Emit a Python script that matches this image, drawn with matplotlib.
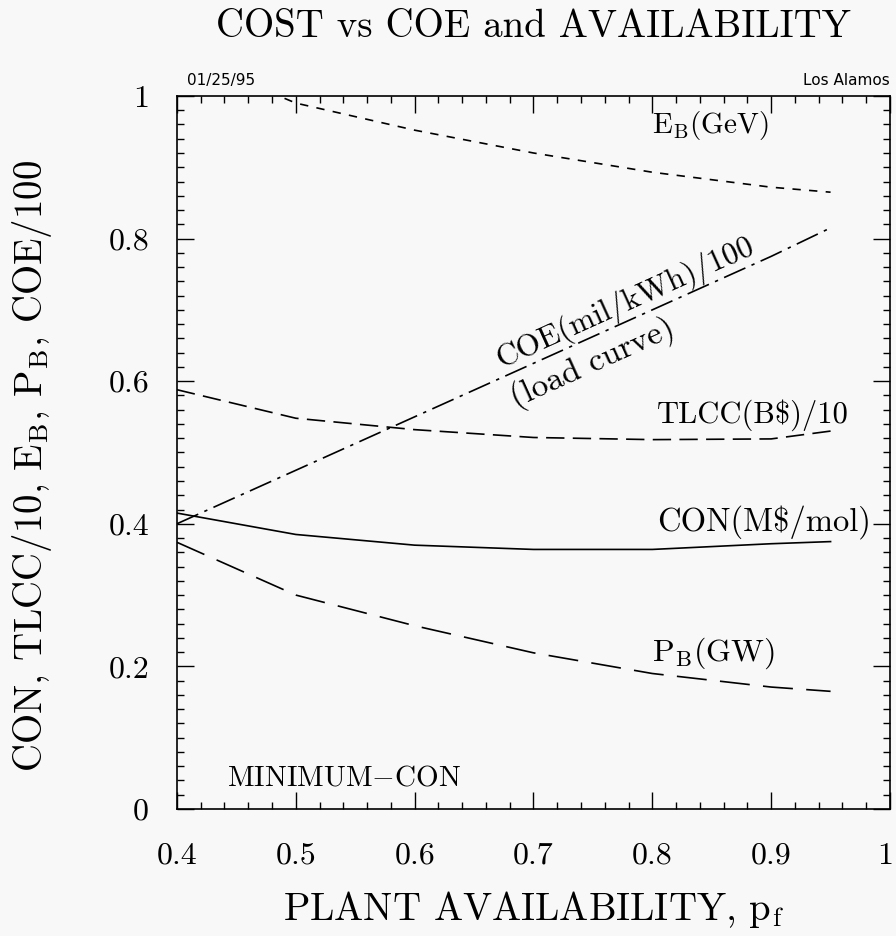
import numpy as np
import matplotlib
matplotlib.use("Agg")
import matplotlib.pyplot as plt
from matplotlib.ticker import MultipleLocator

plt.rcParams['font.family'] = 'serif'
plt.rcParams['font.serif'] = ['cmr10', 'DejaVu Serif']
plt.rcParams['mathtext.fontset'] = 'cm'
plt.rcParams['axes.formatter.use_mathtext'] = True

# plant availability grid and the scaled cost figures
pf = [0.40, 0.50, 0.60, 0.70, 0.80, 0.90, 0.95]
con = [0.415, 0.385, 0.370, 0.364, 0.364, 0.372, 0.375]        # CON (M$/mol)
tlcc = [0.588, 0.548, 0.532, 0.521, 0.518, 0.519, 0.530]       # TLCC (B$)/10
e_beam = [1.060, 0.990, 0.952, 0.920, 0.893, 0.872, 0.865]     # E_B (GeV)
p_beam = [0.374, 0.300, 0.257, 0.219, 0.190, 0.171, 0.165]     # P_B (GW)
coe = [0.400, 0.475, 0.550, 0.625, 0.700, 0.775, 0.815]        # COE (mil/kWh)/100

x_ticks = [0.4, 0.5, 0.6, 0.7, 0.8, 0.9, 1.0]
x_ticklabels = ['0.4', '0.5', '0.6', '0.7', '0.8', '0.9', '1']
y_ticks = [0.0, 0.2, 0.4, 0.6, 0.8, 1.0]
y_ticklabels = ['0', '0.2', '0.4', '0.6', '0.8', '1']

bg = '#f8f8f8'
fig = plt.figure(figsize=(8.96, 9.36), dpi=100, facecolor=bg)
ax = fig.add_axes([0.1975, 0.1357, 0.7958, 0.7618], facecolor=bg)

lw = 1.2
ax.plot(pf, con, color='black', lw=lw, ls='-')
ax.plot(pf, tlcc, color='black', lw=lw, ls=(0, (11, 5)))
ax.plot(pf, e_beam, color='black', lw=lw, ls=(0, (5, 5)))
ax.plot(pf, p_beam, color='black', lw=lw, ls=(0, (18, 8)))
ax.plot(pf, coe, color='black', lw=lw, ls=(0, (14, 4, 2, 4)))

ax.set_xlim(0.4, 1.0)
ax.set_ylim(0.0, 1.0)
ax.xaxis.set_minor_locator(MultipleLocator(0.02))
ax.yaxis.set_minor_locator(MultipleLocator(0.02))
ax.set_xticks(x_ticks)
# the last label sits on the figure edge, so it is drawn a touch to the left
ax.set_xticklabels(x_ticklabels[:-1] + [''])
ax.annotate(x_ticklabels[-1], xy=(x_ticks[-1], 0), xycoords=('data', 'axes fraction'),
            xytext=(-3.5, -24), textcoords='offset points',
            ha='center', va='top', fontsize=23)
ax.set_yticks(y_ticks)
ax.set_yticklabels(y_ticklabels)
ax.tick_params(which='both', direction='in', top=True, right=True, width=1.0)
ax.tick_params(which='major', length=12, labelsize=23)
ax.tick_params(axis='x', which='major', pad=24)
ax.tick_params(axis='y', which='major', pad=20)
ax.tick_params(which='minor', length=5)
for s in ax.spines.values():
    s.set_linewidth(1.2)

ax.set_xlabel(r'PLANT AVAILABILITY, p$_\mathrm{f}$', fontsize=28, labelpad=14)
ax.set_ylabel(r'CON, TLCC/10, E$_\mathrm{B}$, P$_\mathrm{B}$, COE/100',
              fontsize=28)
ax.yaxis.set_label_coords(-0.172, 0.481)
fig.text(0.595, 0.971, 'COST vs COE and AVAILABILITY', fontsize=28,
         ha='center', va='center')

# curve labels
ax.text(0.849, 0.958, r'$\mathrm{E_B(GeV)}$', fontsize=21, ha='center', va='center')
ax.text(0.885, 0.553, r'TLCC(B\$)/10', fontsize=22, ha='center', va='center')
ax.text(0.894, 0.402, r'CON(M\$/mol)', fontsize=23.5, ha='center', va='center')
ax.text(0.851, 0.219, r'$\mathrm{P_B(GW)}$', fontsize=23, ha='center', va='center')

slope = (coe[-1] - coe[0]) / (pf[-1] - pf[0])
ang = np.degrees(np.arctan(slope))
x1 = 0.783
ax.text(x1, np.interp(x1, pf, coe) + 0.002, 'COE(mil/kWh)/100', fontsize=22.5,
        rotation=ang, rotation_mode='anchor', transform_rotates_text=True,
        ha='center', va='bottom')
x2 = 0.744
ax.text(x2, np.interp(x2, pf, coe) - 0.011, '(load curve)', fontsize=24,
        rotation=ang, rotation_mode='anchor', transform_rotates_text=True,
        ha='center', va='top')

ax.text(0.442, 0.043, r'MINIMUM$-$CON', fontsize=21, ha='left', va='center')

ax.text(0.014, 1.011, '01/25/95', transform=ax.transAxes, fontsize=11,
        family='DejaVu Sans', ha='left', va='bottom')
ax.text(1.0, 1.011, 'Los Alamos', transform=ax.transAxes, fontsize=11,
        family='DejaVu Sans', ha='right', va='bottom')

fig.savefig('out.png', dpi=100, facecolor=bg)
